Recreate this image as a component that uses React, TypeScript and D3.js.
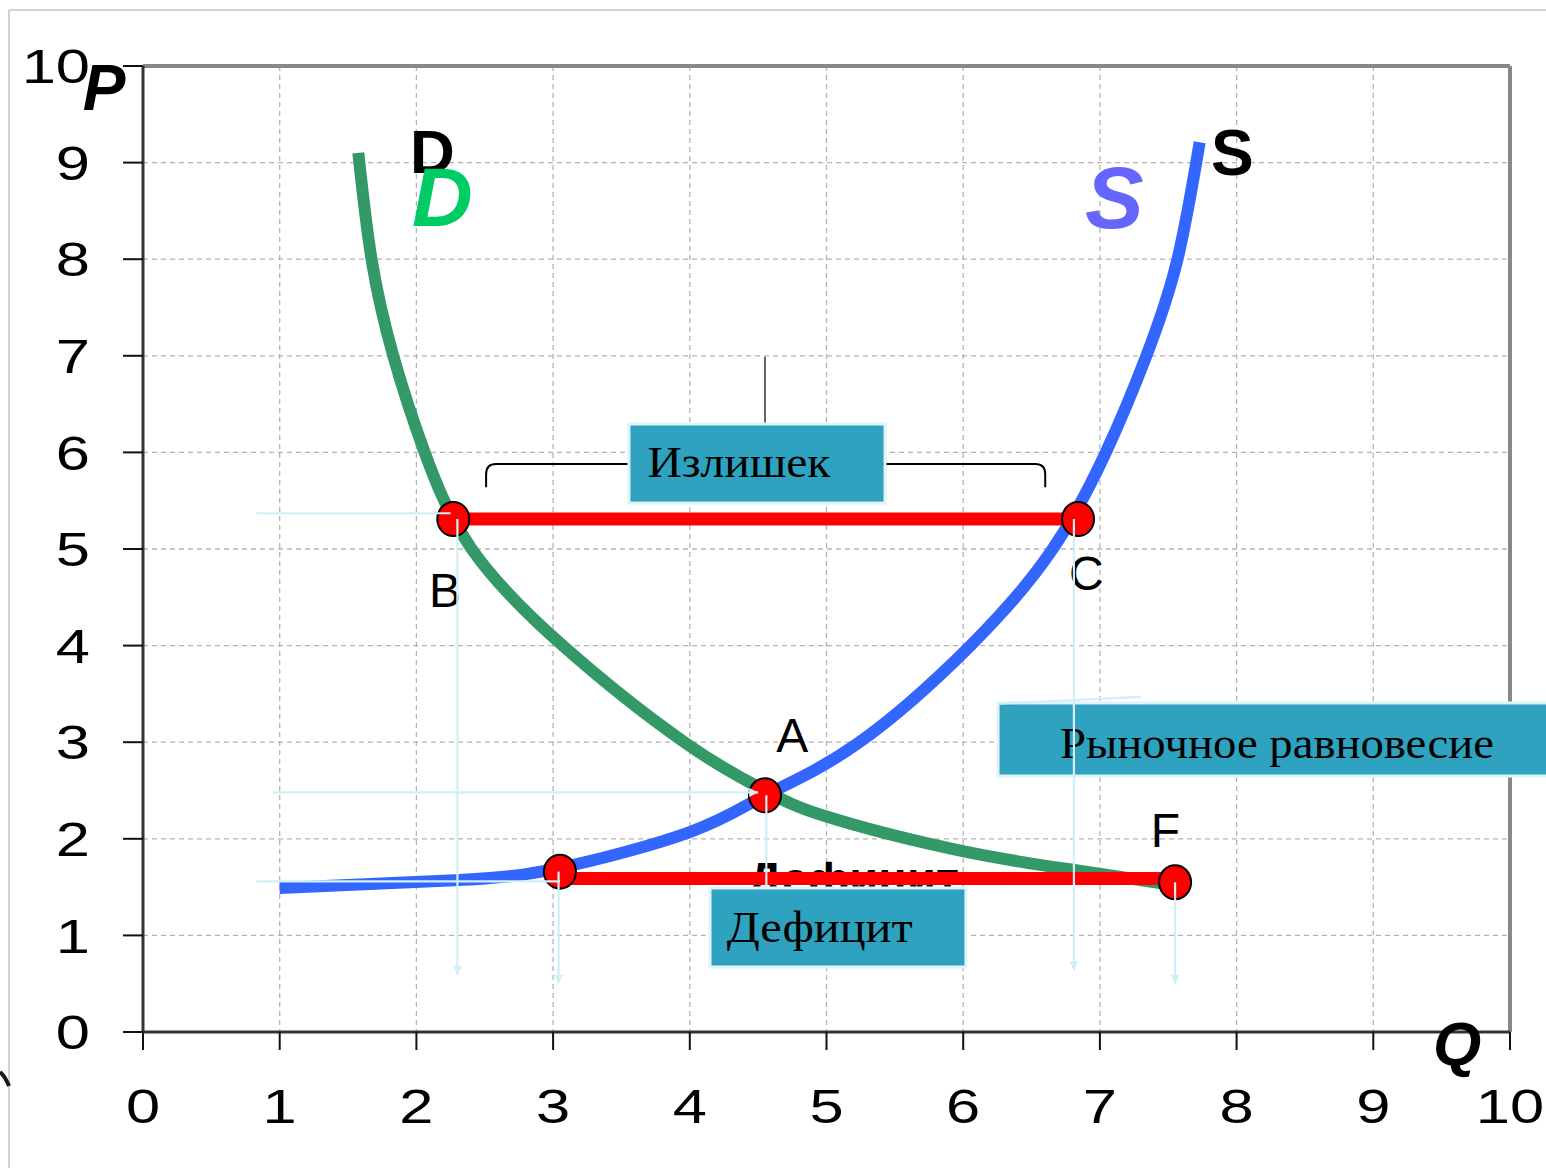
import * as d3 from "d3";

// axis ticks
const qTicks = [0, 1, 2, 3, 4, 5, 6, 7, 8, 9, 10];
const pTicks = [0, 1, 2, 3, 4, 5, 6, 7, 8, 9, 10];

// demand curve D  [Q, P]
const demand: [number, number][] = [
  [1.575, 9.1], [1.673, 7.99], [1.831, 7.0], [2.063, 5.99], [2.4, 5.01],
  [3.07, 4.0], [3.98, 2.98], [4.55, 2.5], [5.0, 2.23], [5.97, 1.88],
  [6.8, 1.68], [7.5, 1.53],
];

// supply curve S  [Q, P]
const supply: [number, number][] = [
  [1.0, 1.49], [2.28, 1.57], [3.05, 1.7], [4.0, 2.07], [4.55, 2.45],
  [5.22, 2.98], [6.06, 4.01], [6.65, 4.99], [7.04, 5.99], [7.34, 7.0],
  [7.566, 7.99], [7.73, 9.21],
];

// red points
const points = [
  { q: 2.27, p: 5.31 }, // B
  { q: 6.84, p: 5.31 }, // C
  { q: 4.55, p: 2.45 }, // A
  { q: 3.05, p: 1.66 },
  { q: 7.55, p: 1.55 }, // F
];

// surplus / deficit segments
const gaps = [
  { q1: 2.27, q2: 6.84, p: 5.31 },
  { q1: 3.05, q2: 7.55, p: 1.59 },
];

// point letters
const letters = [
  { t: "A", q: 4.75, p: 2.9 },
  { t: "B", q: 2.21, p: 4.4 },
  { t: "C", q: 6.9, p: 4.58 },
  { t: "F", q: 7.48, p: 1.92 },
];

// light guide lines [q1, p1, q2, p2, arrow, over boxes]
const guides: [number, number, number, number, boolean, boolean][] = [
  [0.83, 5.37, 2.25, 5.37, false, true],
  [2.3, 5.31, 2.3, 0.59, true, true],
  [6.81, 5.31, 6.81, 0.64, true, true],
  [0.95, 2.48, 4.5, 2.48, true, true],
  [4.56, 2.45, 4.56, 0.67, false, false],
  [0.83, 1.56, 3.05, 1.56, false, true],
  [3.04, 1.66, 3.04, 0.5, true, true],
  [7.55, 1.55, 7.55, 0.5, true, true],
  [6.26, 3.4, 7.3, 3.47, false, true],
];

// teal label boxes
const boxes = [
  { t: "Излишек", q1: 3.555, q2: 5.428, p1: 6.294, p2: 5.476, tq: 3.69, tp: 5.745, len: 183 },
  { t: "Рыночное равновесие", q1: 6.255, q2: 10.3, p1: 3.406, p2: 2.65, tq: 6.708, tp: 2.836, len: 434 },
  { t: "Дефицит", q1: 4.148, q2: 6.02, p1: 1.491, p2: 0.673, tq: 4.27, tp: 0.932, len: 186 },
];

const W = 1546;
const H = 1168;

export default function App() {
  const x = d3.scaleLinear().domain([0, 10]).range([143, 1510]);
  const y = d3.scaleLinear().domain([0, 10]).range([1032, 66]);

  const line = d3
    .line<[number, number]>()
    .x((d) => x(d[0]))
    .y((d) => y(d[1]))
    .curve(d3.curveNatural);

  const sans = "'Liberation Sans', Arial, sans-serif";
  const serif = "'Liberation Serif', 'Times New Roman', serif";
  const guideColor = "#d2eef6";

  // bracket above the surplus segment
  const bl = x(2.51), br = x(6.6), bt = y(5.88), bb = y(5.64);
  const bracket =
    `M${bl},${bb} L${bl},${bt + 10} Q${bl},${bt} ${bl + 10},${bt} L${x(3.555)},${bt}` +
    ` M${x(5.428)},${bt} L${br - 10},${bt} Q${br},${bt} ${br},${bt + 10} L${br},${bb}`;

  const guideLine = (g: (typeof guides)[number], i: number) => (
    <line key={"gd" + i} x1={x(g[0])} y1={y(g[1])} x2={x(g[2])} y2={y(g[3])}
      stroke={guideColor} strokeWidth={2.2}
      markerEnd={g[4] ? "url(#arr)" : undefined} />
  );

  return (
    <svg
      width={W}
      height={H}
      style={{ position: "absolute", left: 0, top: 0, background: "#fff" }}
    >
      <defs>
        <marker
          id="arr"
          viewBox="0 0 10 10"
          refX="10"
          refY="5"
          markerWidth="14"
          markerHeight="9"
          markerUnits="userSpaceOnUse"
          orient="auto"
        >
          <path d="M0,0 L10,5 L0,10 z" fill={guideColor} />
        </marker>
      </defs>

      {/* slide border */}
      <line x1={9} y1={10} x2={W} y2={10} stroke="#c4c4c4" strokeWidth={1.5} />
      <line x1={9} y1={10} x2={9} y2={H} stroke="#c4c4c4" strokeWidth={1.5} />
      <path d="M0,1072 Q5,1076 9,1086" fill="none" stroke="#1a1a1a" strokeWidth={4} />

      {/* grid */}
      {qTicks.slice(1, -1).map((t) => (
        <line key={"gx" + t} x1={x(t)} x2={x(t)} y1={y(10)} y2={y(0)}
          stroke="#b4b4b4" strokeWidth={1.3} strokeDasharray="5,4" />
      ))}
      {pTicks.slice(1, -1).map((t) => (
        <line key={"gy" + t} x1={x(0)} x2={x(10)} y1={y(t)} y2={y(t)}
          stroke="#b4b4b4" strokeWidth={1.3} strokeDasharray="5,4" />
      ))}

      {/* frame */}
      <line x1={x(0)} x2={x(10)} y1={y(10)} y2={y(10)} stroke="#888" strokeWidth={4} />
      <line x1={x(10)} x2={x(10)} y1={y(10)} y2={y(0)} stroke="#888" strokeWidth={4} />
      <line x1={x(0)} x2={x(0)} y1={y(10)} y2={y(0)} stroke="#333" strokeWidth={3} />
      <line x1={x(0)} x2={x(10)} y1={y(0)} y2={y(0)} stroke="#333" strokeWidth={3} />

      {/* ticks & labels */}
      {pTicks.map((t) => (
        <g key={"ty" + t}>
          <line x1={x(0) - 20} x2={x(0)} y1={y(t)} y2={y(t)} stroke="#111" strokeWidth={2} />
          <text transform={`translate(90,${y(t)}) scale(1.28,1)`} dy="0.36em" textAnchor="end"
            fontFamily={sans} fontSize={48} fill="#000">{t}</text>
        </g>
      ))}
      {qTicks.map((t) => (
        <g key={"tx" + t}>
          <line x1={x(t)} x2={x(t)} y1={y(0)} y2={y(0) + 18} stroke="#111" strokeWidth={2} />
          <text transform={`translate(${x(t)},1123) scale(1.28,1)`} textAnchor="middle"
            fontFamily={sans} fontSize={48} fill="#000">{t}</text>
        </g>
      ))}

      {/* axis names */}
      <text x={x(-0.44)} y={y(9.545)} fontFamily={sans} fontSize={64} fontWeight="bold"
        fontStyle="italic" fill="#000">P</text>
      <text x={x(9.437)} y={y(-0.342)} fontFamily={sans} fontSize={62} fontWeight="bold"
        fontStyle="italic" fill="#000">Q</text>

      {/* curves */}
      <path d={line(demand) || ""} fill="none" stroke="#339966" strokeWidth={12} />
      <path d={line(supply) || ""} fill="none" stroke="#3366ff" strokeWidth={12} />

      {/* curve names */}
      <text x={x(1.953)} y={y(8.892)} fontFamily={sans} fontSize={62} fontWeight="bold"
        fill="#000">D</text>
      <text x={x(1.968)} y={y(8.344)} fontFamily={sans} fontSize={84} fontWeight="bold"
        fontStyle="italic" fill="#00cc66">D</text>
      <text x={x(7.813)} y={y(8.872)} fontFamily={sans} fontSize={64} fontWeight="bold"
        fill="#000">S</text>
      <text x={x(6.891)} y={y(8.323)} fontFamily={sans} fontSize={88} fontWeight="bold"
        fontStyle="italic" fill="#6666ff">S</text>

      {/* hidden sans label behind deficit line */}
      <text x={x(4.426)} y={y(1.418)} fontFamily={sans} fontSize={46} fontWeight="bold"
        fill="#000" textLength={211} lengthAdjust="spacingAndGlyphs">Дефицит</text>

      {/* surplus / deficit segments */}
      {gaps.map((g, i) => (
        <line key={"gap" + i} x1={x(g.q1)} x2={x(g.q2)} y1={y(g.p)} y2={y(g.p)}
          stroke="#ff0000" strokeWidth={13} />
      ))}

      {/* points */}
      {points.map((d, i) => (
        <ellipse key={"pt" + i} cx={x(d.q)} cy={y(d.p)} rx={16} ry={17}
          fill="#ff0000" stroke="#000" strokeWidth={2} />
      ))}

      {letters.map((d) => (
        <text key={d.t} x={x(d.q)} y={y(d.p)} textAnchor="middle" fontFamily={sans}
          fontSize={48} fill="#000">{d.t}</text>
      ))}

      {/* bracket and pointer */}
      <path d={bracket} fill="none" stroke="#000" strokeWidth={2} />
      <line x1={x(4.55)} x2={x(4.55)} y1={y(6.99)} y2={y(6.294)} stroke="#333" strokeWidth={1.5} />

      {/* guides under the boxes */}
      {guides.filter((g) => !g[5]).map(guideLine)}

      {/* boxes */}
      {boxes.map((b) => (
        <g key={b.t}>
          <rect x={x(b.q1)} y={y(b.p1)} width={x(b.q2) - x(b.q1)} height={y(b.p2) - y(b.p1)}
            fill="#2ea2bf" stroke="#dff3f8" strokeWidth={3} />
          <text x={x(b.tq)} y={y(b.tp)} fontFamily={serif} fontSize={44} fill="#000"
            textLength={b.len} lengthAdjust="spacingAndGlyphs">{b.t}</text>
        </g>
      ))}

      {/* guides over everything */}
      {guides.filter((g) => g[5]).map(guideLine)}
    </svg>
  );
}
